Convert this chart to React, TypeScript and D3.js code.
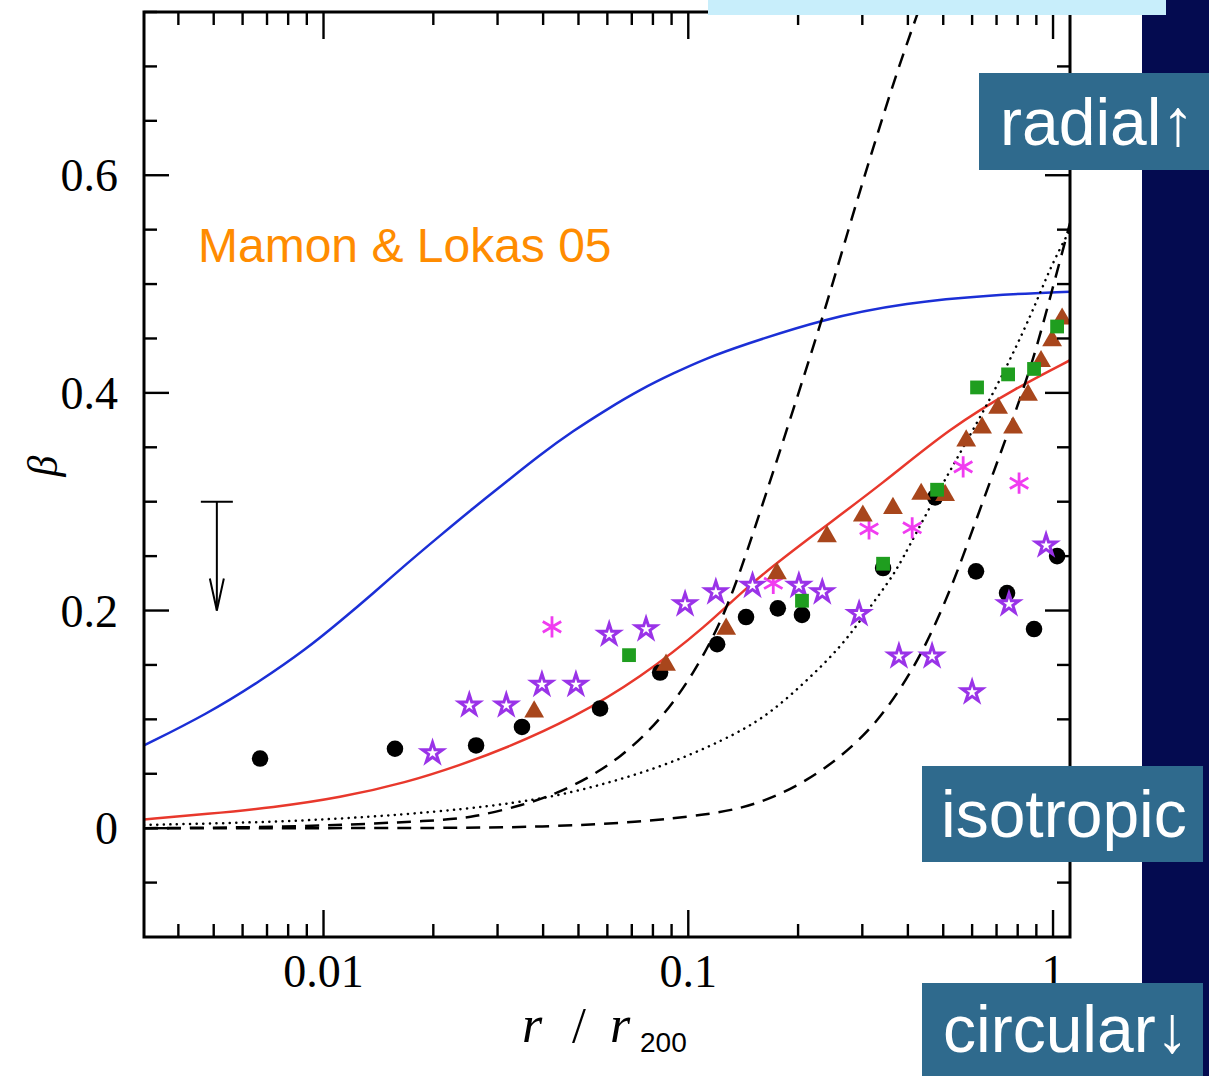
import { useEffect, useRef } from 'react'
import * as d3 from 'd3'

// model curves (r / r200, beta)
const blueR = [0.00322, 0.0048, 0.0067, 0.009, 0.0111, 0.0137, 0.0169, 0.0209, 0.0257, 0.0319, 0.0392, 0.0483, 0.0599, 0.0738, 0.0909, 0.1126, 0.1387, 0.234, 0.398, 0.672, 1.113]
const blueBeta = [0.076, 0.105, 0.135, 0.165, 0.19, 0.216, 0.243, 0.269, 0.294, 0.319, 0.343, 0.365, 0.385, 0.403, 0.418, 0.432, 0.443, 0.468, 0.483, 0.49, 0.493]

const redR = [0.00322, 0.0048, 0.00728, 0.0111, 0.0169, 0.0237, 0.0319, 0.0483, 0.0738, 0.1126, 0.1477, 0.2255, 0.342, 0.522, 0.797, 1.113]
const redBeta = [0.008, 0.013, 0.019, 0.028, 0.042, 0.058, 0.074, 0.101, 0.138, 0.186, 0.225, 0.272, 0.317, 0.368, 0.405, 0.43]

const steepR = [0.00322, 0.00863, 0.0209, 0.0257, 0.0352, 0.0437, 0.0538, 0.065, 0.0786, 0.0908, 0.103, 0.117, 0.1327, 0.157, 0.234, 0.274, 0.319, 0.373, 0.432]
const steepBeta = [0.0, 0.001, 0.007, 0.01, 0.021, 0.032, 0.047, 0.065, 0.09, 0.115, 0.142, 0.175, 0.216, 0.289, 0.469, 0.549, 0.622, 0.695, 0.755]

const lateR = [0.00322, 0.0209, 0.0392, 0.0738, 0.1126, 0.1387, 0.171, 0.212, 0.261, 0.321, 0.381, 0.44, 0.49, 0.545, 0.643, 0.762, 0.881, 0.981, 1.113]
const lateBeta = [0.0, 0.0, 0.001, 0.0055, 0.0125, 0.018, 0.028, 0.044, 0.065, 0.093, 0.127, 0.163, 0.197, 0.234, 0.301, 0.368, 0.429, 0.487, 0.556]

const dotR = [0.00322, 0.00863, 0.0209, 0.0392, 0.0599, 0.0909, 0.1387, 0.171, 0.212, 0.261, 0.301, 0.357, 0.381, 0.469, 0.581, 0.716, 0.881, 0.981, 1.113]
const dotBeta = [0.003, 0.006, 0.0147, 0.0257, 0.041, 0.06, 0.088, 0.108, 0.136, 0.166, 0.194, 0.228, 0.243, 0.301, 0.356, 0.411, 0.475, 0.515, 0.55]

// data points
const blackR = [0.0067, 0.0157, 0.0262, 0.035, 0.0573, 0.0837, 0.12, 0.144, 0.176, 0.205, 0.342, 0.475, 0.615, 0.748, 0.887, 1.026]
const blackBeta = [0.064, 0.073, 0.076, 0.093, 0.11, 0.143, 0.169, 0.194, 0.202, 0.196, 0.239, 0.304, 0.236, 0.216, 0.183, 0.25]

const starR = [0.0199, 0.0251, 0.0317, 0.0397, 0.0492, 0.0607, 0.0766, 0.098, 0.119, 0.15, 0.201, 0.233, 0.294, 0.378, 0.466, 0.6, 0.757, 0.957]
const starBeta = [0.069, 0.113, 0.113, 0.132, 0.132, 0.178, 0.183, 0.206, 0.217, 0.223, 0.223, 0.217, 0.197, 0.158, 0.158, 0.125, 0.206, 0.26]

const astR = [0.0423, 0.171, 0.313, 0.411, 0.567, 0.807]
const astBeta = [0.185, 0.225, 0.275, 0.276, 0.332, 0.317]

const triR = [0.0378, 0.0869, 0.127, 0.175, 0.24, 0.301, 0.364, 0.435, 0.506, 0.578, 0.639, 0.707, 0.777, 0.854, 0.927, 0.994, 1.059]
const triBeta = [0.107, 0.15, 0.183, 0.234, 0.268, 0.287, 0.294, 0.307, 0.306, 0.356, 0.368, 0.386, 0.368, 0.398, 0.429, 0.448, 0.468]

const sqR = [0.0688, 0.205, 0.342, 0.481, 0.619, 0.753, 0.887, 1.026]
const sqBeta = [0.159, 0.209, 0.243, 0.311, 0.405, 0.417, 0.422, 0.461]

// upper limit (arrow)
const limitR = [0.0051]
const limitBeta = [0.3]
const limitTo = [0.2]

const xMajor = [0.01, 0.1, 1]
const xLabels = ['0.01', '0.1', '1']
const yMajor = [0, 0.2, 0.4, 0.6]
const yLabels = ['0', '0.2', '0.4', '0.6']

const W = 1209
const H = 1076

function App() {
  const ref = useRef<SVGSVGElement>(null)

  useEffect(() => {
    const svg = d3.select(ref.current)
    svg.selectAll('*').remove()

    const left = 144, right = 1070, top = 12, bottom = 937
    const x = d3.scaleLog().domain([0.00322, 1.113]).range([left, right])
    const y = d3.scaleLinear().domain([-0.1, 0.75]).range([bottom, top])

    svg.append('rect').attr('width', W).attr('height', H).attr('fill', '#fff')

    svg.append('clipPath').attr('id', 'plot')
      .append('rect').attr('x', left).attr('y', top).attr('width', right - left).attr('height', bottom - top)

    const g = svg.append('g')
    const plot = g.append('g').attr('clip-path', 'url(#plot)')

    const line = d3.line<[number, number]>()
      .x(d => x(d[0]))
      .y(d => y(d[1]))
      .curve(d3.curveBasis)

    const curve = (rs: number[], bs: number[], color: string, dash?: string, cap = 'butt') => {
      plot.append('path')
        .datum(rs.map((r, i) => [r, bs[i]] as [number, number]))
        .attr('d', line)
        .attr('fill', 'none')
        .attr('stroke', color)
        .attr('stroke-width', 2.5)
        .attr('stroke-dasharray', dash || null)
        .attr('stroke-linecap', cap)
    }

    curve(blueR, blueBeta, '#1b2fd6')
    curve(redR, redBeta, '#e8382c')
    curve(steepR, steepBeta, '#000', '14 9')
    curve(lateR, lateBeta, '#000', '14 9')
    curve(dotR, dotBeta, '#000', '0.1 6.5', 'round')

    // markers
    const sym = (rs: number[], bs: number[], type: d3.SymbolType, size: number, fill: string, stroke: string, sw: number) => {
      plot.selectAll(null)
        .data(rs.map((r, i) => [r, bs[i]]))
        .join('path')
        .attr('transform', d => `translate(${x(d[0])},${y(d[1])})`)
        .attr('d', d3.symbol().type(type).size(size)())
        .attr('fill', fill)
        .attr('stroke', stroke)
        .attr('stroke-width', sw)
    }

    sym(blackR, blackBeta, d3.symbolCircle, 215, '#000', 'none', 0)
    sym(starR, starBeta, d3.symbolStar, 130, '#fff', '#9a33e8', 3)
    sym(astR, astBeta, d3.symbolAsterisk, 320, 'none', '#f03cf0', 2.8)
    sym(triR, triBeta, d3.symbolTriangle, 170, '#a8461c', 'none', 0)
    sym(sqR, sqBeta, d3.symbolSquare, 190, '#1f9e1f', 'none', 0)

    // upper limit arrow
    limitR.forEach((r, i) => {
      const cx = x(r), y0 = y(limitBeta[i]), y1 = y(limitTo[i])
      g.append('line').attr('x1', cx - 16).attr('x2', cx + 16).attr('y1', y0).attr('y2', y0)
        .attr('stroke', '#000').attr('stroke-width', 2)
      g.append('line').attr('x1', cx).attr('x2', cx).attr('y1', y0).attr('y2', y1)
        .attr('stroke', '#000').attr('stroke-width', 2)
      g.append('path').attr('d', `M${cx - 7},${y1 - 32}L${cx},${y1}L${cx + 7},${y1 - 32}`)
        .attr('fill', 'none').attr('stroke', '#000').attr('stroke-width', 2)
    })

    // ticks
    const xMinor = x.ticks().filter(t => !xMajor.some(m => Math.abs(m - t) < 1e-9))
    const yMinor = d3.range(-0.05, 0.76, 0.05).filter(t => !yMajor.some(m => Math.abs(m - t) < 1e-6))
    const tk = g.append('g').attr('stroke', '#000').attr('stroke-width', 2.4)
    const xt = (v: number, len: number) => {
      tk.append('line').attr('x1', x(v)).attr('x2', x(v)).attr('y1', bottom).attr('y2', bottom - len)
      tk.append('line').attr('x1', x(v)).attr('x2', x(v)).attr('y1', top).attr('y2', top + len)
    }
    const yt = (v: number, len: number) => {
      tk.append('line').attr('x1', left).attr('x2', left + len).attr('y1', y(v)).attr('y2', y(v))
      tk.append('line').attr('x1', right).attr('x2', right - len).attr('y1', y(v)).attr('y2', y(v))
    }
    xMajor.forEach(v => xt(v, 27))
    xMinor.forEach(v => xt(v, 13))
    yMajor.forEach(v => yt(v, 25))
    yMinor.forEach(v => yt(v, 13))

    g.append('rect').attr('x', left).attr('y', top).attr('width', right - left).attr('height', bottom - top)
      .attr('fill', 'none').attr('stroke', '#000').attr('stroke-width', 3)

    const serif = '"Liberation Serif", "DejaVu Serif", serif'
    const sans = '"Liberation Sans", Arial, sans-serif'

    xMajor.forEach((v, i) => {
      g.append('text').attr('x', x(v)).attr('y', 987).attr('text-anchor', 'middle')
        .style('font-family', serif).style('font-size', '46px').text(xLabels[i])
    })
    yMajor.forEach((v, i) => {
      g.append('text').attr('x', 118).attr('y', y(v)).attr('dy', '0.35em').attr('text-anchor', 'end')
        .style('font-family', serif).style('font-size', '46px').text(yLabels[i])
    })

    // axis titles
    const title = (tx: number, ty: number, s: string, size: number, fam: string, italic: boolean) => {
      g.append('text').attr('x', tx).attr('y', ty)
        .style('font-family', fam).style('font-size', `${size}px`)
        .style('font-style', italic ? 'italic' : 'normal').text(s)
    }
    title(522, 1042, 'r', 52, serif, true)
    title(572, 1042, '/', 50, serif, false)
    title(610, 1042, 'r', 52, serif, true)
    title(640, 1052, '200', 28, sans, false)

    g.append('text').attr('transform', 'translate(57,466) rotate(-90)').attr('text-anchor', 'middle')
      .style('font-family', serif).style('font-style', 'italic').style('font-size', '42px').text('β')

    g.append('text').attr('x', 198).attr('y', 262).attr('fill', '#ff8c00')
      .style('font-family', sans).style('font-size', '48px').text('Mamon & Lokas 05')

    // slide overlays
    svg.append('rect').attr('x', 1142).attr('y', 0).attr('width', W - 1142).attr('height', H).attr('fill', '#040b50')
    svg.append('rect').attr('x', 708).attr('y', 0).attr('width', 458).attr('height', 15).attr('fill', '#c8eefb')

    const box = (bx: number, by: number, bw: number, bh: number, tx: number, ty: number, label: string) => {
      svg.append('rect').attr('x', bx).attr('y', by).attr('width', bw).attr('height', bh).attr('fill', '#2f6a8d')
      svg.append('text').attr('x', tx).attr('y', ty).attr('fill', '#fff')
        .style('font-family', sans).style('font-size', '66px').text(label)
    }
    box(979, 73, 230, 97, 1000, 145, 'radial↑')
    box(922, 766, 281, 96, 941, 837, 'isotropic')
    box(922, 983, 281, 93, 943, 1052, 'circular↓')
  }, [])

  return (
    <svg ref={ref} width={W} height={H} style={{ position: 'absolute', left: 0, top: 0 }} />
  )
}

export default App
